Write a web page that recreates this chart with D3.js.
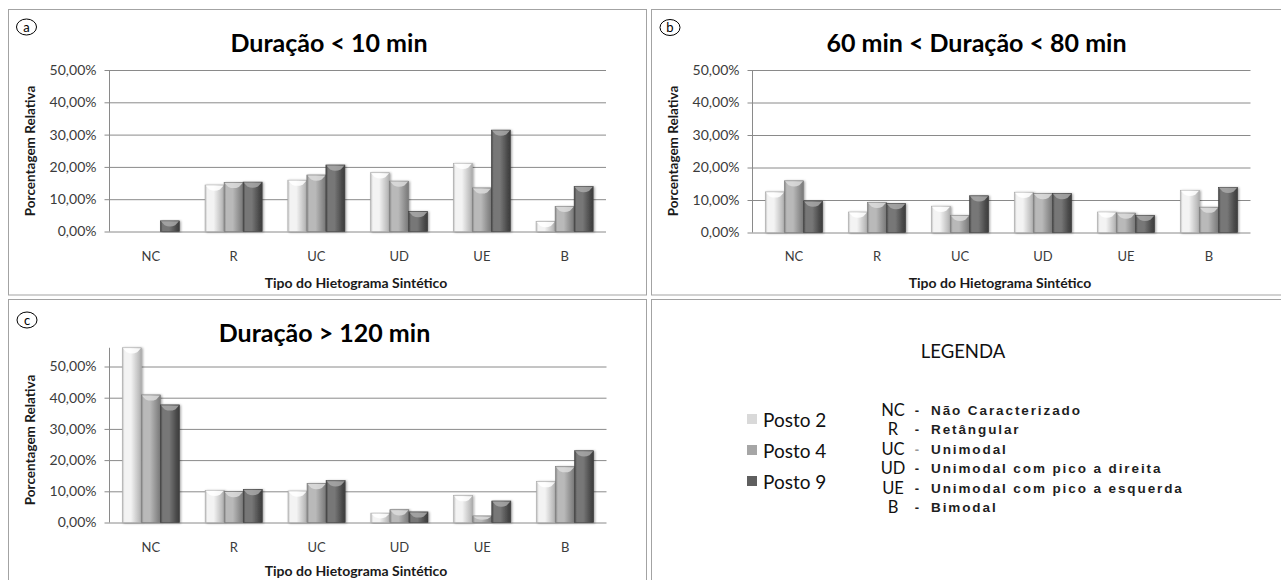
<!DOCTYPE html>
<html>
<head>
<meta charset="utf-8">
<script src="https://cdn.jsdelivr.net/npm/d3@7"></script>
<style>
  body { margin: 0; background: #fff; }
  svg { display: block; }
</style>
</head>
<body>
<svg id="fig" width="1281" height="580"></svg>
<script>
// Hyetogram type categories and rain-gauge series
const categories = ["NC", "R", "UC", "UD", "UE", "B"];
const seriesNames = ["Posto 2", "Posto 4", "Posto 9"];
const yTicks = [0, 10, 20, 30, 40, 50];

// (a) Duração < 10 min  — relative percentage per type
const posto2_a = [0.0, 14.4, 15.9, 18.2, 21.1, 3.1];
const posto4_a = [0.0, 15.2, 17.5, 15.6, 13.5, 7.8];
const posto9_a = [3.3, 15.3, 20.6, 6.2, 31.4, 13.9];

// (b) 60 min < Duração < 80 min
const posto2_b = [12.5, 6.3, 8.1, 12.4, 6.3, 13.0];
const posto4_b = [15.9, 9.3, 5.3, 12.0, 6.0, 7.8];
const posto9_b = [9.7, 8.9, 11.3, 12.0, 5.3, 13.9];

// (c) Duração > 120 min
const posto2_c = [56.0, 10.3, 10.1, 3.0, 8.6, 13.1];
const posto4_c = [40.9, 9.9, 12.5, 4.1, 2.1, 17.9];
const posto9_c = [37.7, 10.6, 13.4, 3.4, 6.9, 23.0];

// Legend glossary
const abbrevs = ["NC", "R", "UC", "UD", "UE", "B"];
const descriptions = [
  "Não Caracterizado",
  "Retângular",
  "Unimodal",
  "Unimodal com pico a direita",
  "Unimodal com pico a esquerda",
  "Bimodal"
];

const svg = d3.select("#fig");
const defs = svg.append("defs");

// Shading for each gauge: darker rims, lighter body, like beveled bars
const shades = [
  { id: "shade0", rim: "#bdbdbd", body: "#f3f3f3", edge: "#a9a9a9", cap: "#ffffff", swatch: "#d9d9d9" },
  { id: "shade1", rim: "#858585", body: "#b9b9b9", edge: "#7a7a7a", cap: "#dcdcdc", swatch: "#a6a6a6" },
  { id: "shade2", rim: "#454545", body: "#777777", edge: "#3e3e3e", cap: "#a8a8a8", swatch: "#5f5f5f" }
];
shades.forEach(s => {
  const lg = defs.append("linearGradient").attr("id", s.id)
    .attr("x1", "0%").attr("x2", "100%").attr("y1", "0%").attr("y2", "0%");
  lg.append("stop").attr("offset", "0%").attr("stop-color", s.rim);
  lg.append("stop").attr("offset", "12%").attr("stop-color", s.body);
  lg.append("stop").attr("offset", "45%").attr("stop-color", s.body);
  lg.append("stop").attr("offset", "88%").attr("stop-color", s.rim);
  lg.append("stop").attr("offset", "100%").attr("stop-color", s.edge);
});
const shadow = defs.append("filter").attr("id", "barShadow")
  .attr("x", "-30%").attr("y", "-10%").attr("width", "160%").attr("height", "120%");
shadow.append("feDropShadow").attr("dx", 1.2).attr("dy", 0.5)
  .attr("stdDeviation", 1).attr("flood-color", "#000").attr("flood-opacity", 0.35);

const FONT = "Lato, 'Open Sans', sans-serif";
const AXIS_TXT = "#3b3b3b";
const GRID = "#8a8a8a";
const FRAME = "#a3a3a3";

// Panel frames
[[8.5, 9.5, 638, 285.5], [651.5, 9.5, 660, 285.5],
 [8.5, 299.5, 638, 300], [651.5, 299.5, 660, 300]].forEach(([x, y, w, h]) => {
  svg.append("rect").attr("x", x).attr("y", y).attr("width", w).attr("height", h)
    .attr("fill", "none").attr("stroke", FRAME).attr("stroke-width", 1);
});

function drawPanel(cfg) {
  const g = svg.append("g");
  const y = d3.scaleLinear().domain([0, cfg.yMax]).range([cfg.y0, cfg.yTop]);
  const x = d3.scaleBand().domain(categories).range([cfg.x0, cfg.x1])
    .paddingInner(0.31).paddingOuter(0.155);
  const xs = d3.scaleBand().domain(seriesNames).range([0, x.bandwidth()]).padding(0);

  // Horizontal gridlines with outside tick marks
  const yAxis = d3.axisLeft(y).tickValues(yTicks)
    .tickSize(-(cfg.x1 - cfg.x0)).tickSizeOuter(0)
    .tickFormat(d => d3.format(".2f")(d).replace(".", ",") + "%");
  const ax = g.append("g").attr("transform", `translate(${cfg.x0},0)`).call(yAxis);
  ax.select(".domain").remove();
  ax.selectAll(".tick line").attr("stroke", GRID).attr("x1", -5);
  ax.selectAll(".tick text").attr("x", -13).attr("fill", AXIS_TXT)
    .style("font-family", FONT).style("font-size", "14px");
  // Vertical axis line
  g.append("line").attr("x1", cfg.x0).attr("x2", cfg.x0)
    .attr("y1", y(cfg.yMax)).attr("y2", y(0)).attr("stroke", GRID);

  // Bars
  const series = cfg.series;
  categories.forEach((cat, ci) => {
    series.forEach((vals, si) => {
      const v = vals[ci];
      if (v <= 0) return;
      const bx = x(cat) + xs(seriesNames[si]);
      const bw = xs.bandwidth();
      const by = y(v);
      const bh = y(0) - by;
      const s = shades[si];
      const bar = g.append("g").attr("filter", "url(#barShadow)");
      bar.append("rect").attr("x", bx).attr("y", by).attr("width", bw).attr("height", bh)
        .attr("fill", `url(#${s.id})`).attr("stroke", s.edge).attr("stroke-width", 0.6);
      const d = Math.min(6, bh * 0.6);
      const cap = d3.path();
      cap.moveTo(bx + 0.5, by + 0.5);
      cap.lineTo(bx + bw - 0.5, by + 0.5);
      cap.lineTo(bx + bw * 0.78, by + d * 0.75);
      cap.quadraticCurveTo(bx + bw / 2, by + d * 1.15, bx + bw * 0.22, by + d * 0.75);
      cap.closePath();
      bar.append("path").attr("d", cap.toString()).attr("fill", s.cap).attr("opacity", 0.85);
    });
  });

  // Category labels
  categories.forEach(cat => {
    g.append("text").attr("x", x(cat) + x.bandwidth() / 2).attr("y", cfg.catY)
      .attr("text-anchor", "middle").attr("fill", AXIS_TXT)
      .style("font-family", FONT).style("font-size", "13px").text(cat);
  });

  // Axis titles
  g.append("text").attr("x", cfg.xTitleX).attr("y", cfg.xTitleY)
    .attr("text-anchor", "middle").attr("fill", "#1a1a1a")
    .style("font-family", FONT).style("font-size", "14px").style("font-weight", "bold")
    .text("Tipo do Hietograma Sintético");
  g.append("text")
    .attr("transform", `translate(${cfg.yTitleX},${cfg.yTitleY}) rotate(-90)`)
    .attr("text-anchor", "middle").attr("fill", "#1a1a1a")
    .style("font-family", FONT).style("font-size", "13.5px").style("font-weight", "bold")
    .text("Porcentagem Relativa");

  // Chart title
  g.append("text").attr("x", cfg.titleX).attr("y", cfg.titleY)
    .attr("text-anchor", "middle").attr("fill", "#000")
    .style("font-family", FONT).style("font-size", "25px").style("font-weight", "bold")
    .text(cfg.title);

  // Panel letter in an oval
  g.append("ellipse").attr("cx", cfg.badge[0]).attr("cy", cfg.badge[1])
    .attr("rx", 10).attr("ry", 8).attr("fill", "#fff").attr("stroke", "#000").attr("stroke-width", 1);
  g.append("text").attr("x", cfg.badge[0]).attr("y", cfg.badge[1] + 4.5)
    .attr("text-anchor", "middle").attr("fill", "#000")
    .style("font-family", FONT).style("font-size", "13px").text(cfg.letter);
}

drawPanel({
  series: [posto2_a, posto4_a, posto9_a], yMax: 50,
  x0: 109.5, x1: 606, y0: 231.5, yTop: 70,
  catY: 261, xTitleX: 356, xTitleY: 288, yTitleX: 35, yTitleY: 151,
  title: "Duração < 10 min", titleX: 329, titleY: 52,
  badge: [26.5, 27], letter: "a"
});
drawPanel({
  series: [posto2_b, posto4_b, posto9_b], yMax: 50,
  x0: 752.5, x1: 1250.5, y0: 232.5, yTop: 70,
  catY: 261, xTitleX: 1000, xTitleY: 288, yTitleX: 678, yTitleY: 151,
  title: "60 min < Duração < 80 min", titleX: 976.5, titleY: 52,
  badge: [670, 27.5], letter: "b"
});
drawPanel({
  series: [posto2_c, posto4_c, posto9_c], yMax: 56,
  x0: 109.5, x1: 606.5, y0: 522.5, yTop: 522.5 - 56 * 3.12,
  catY: 552, xTitleX: 356, xTitleY: 576, yTitleX: 35, yTitleY: 440,
  title: "Duração > 120 min", titleX: 324.5, titleY: 342,
  badge: [27, 320], letter: "c"
});

// Legend panel
const leg = svg.append("g");
leg.append("text").attr("x", 963).attr("y", 358).attr("text-anchor", "middle")
  .attr("fill", "#111").style("font-family", FONT).style("font-size", "18.5px").text("LEGENDA");

seriesNames.forEach((name, i) => {
  const by = 427 + i * 31;
  leg.append("rect").attr("x", 747).attr("y", by - 13).attr("width", 10).attr("height", 10)
    .attr("fill", shades[i].swatch);
  leg.append("text").attr("x", 763).attr("y", by).attr("fill", "#111")
    .style("font-family", FONT).style("font-size", "19px").text(name);
});

abbrevs.forEach((a, i) => {
  const by = 415 + i * 19.4;
  leg.append("text").attr("x", 893).attr("y", by + 1).attr("text-anchor", "middle")
    .attr("fill", "#111").style("font-family", FONT).style("font-size", "16.5px").text(a);
  leg.append("text").attr("x", 917).attr("y", by).attr("text-anchor", "middle")
    .attr("fill", i === 2 ? "#999" : "#222").style("font-family", "'Liberation Sans', Arial, sans-serif")
    .style("font-size", "13px").style("font-weight", "bold").text("-");
  leg.append("text").attr("x", 931).attr("y", by).attr("fill", "#1e1e1e")
    .style("font-family", "'Liberation Sans', Arial, sans-serif")
    .style("font-size", "13.5px").style("font-weight", "bold").style("letter-spacing", "1.9px")
    .text(descriptions[i]);
});
</script>
</body>
</html>
